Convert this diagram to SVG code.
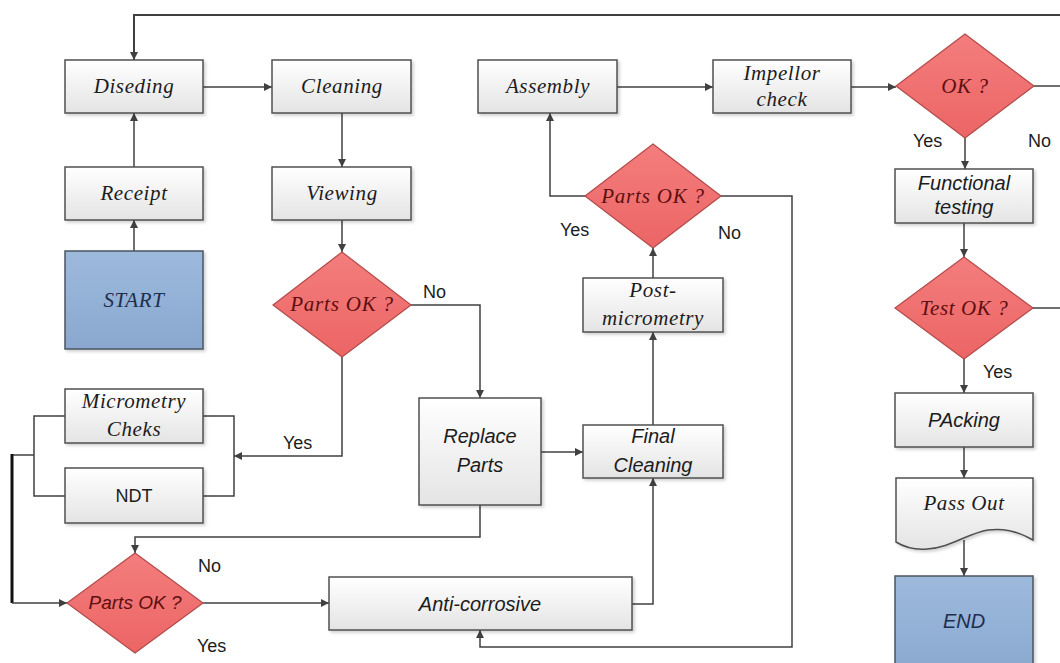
<svg xmlns="http://www.w3.org/2000/svg" width="1060" height="663" viewBox="0 0 1060 663">
  <defs>
    <linearGradient id="gBox" x1="0" y1="0" x2="0" y2="1">
      <stop offset="0" stop-color="#ffffff"/>
      <stop offset="1" stop-color="#e4e4e4"/>
    </linearGradient>
    <linearGradient id="gDia" x1="0" y1="0" x2="0" y2="1">
      <stop offset="0" stop-color="#f47d7d"/>
      <stop offset="1" stop-color="#ec6565"/>
    </linearGradient>
    <linearGradient id="gTerm" x1="0" y1="0" x2="0" y2="1">
      <stop offset="0" stop-color="#9dbadd"/>
      <stop offset="1" stop-color="#8aa8cf"/>
    </linearGradient>
    <filter id="shadow" x="-10%" y="-10%" width="125%" height="130%">
      <feDropShadow dx="2" dy="2" stdDeviation="1.5" flood-color="#000" flood-opacity="0.18"/>
    </filter>
    <marker id="arrow" viewBox="0 0 10 10" refX="10" refY="5" markerWidth="9" markerHeight="8" markerUnits="userSpaceOnUse" orient="auto">
      <path d="M0,0 L10,5 L0,10 z" fill="#404040"/>
    </marker>
    <style>
      .box { fill: url(#gBox); stroke: #505050; stroke-width: 1.5; filter: url(#shadow); }
      .dia { fill: url(#gDia); stroke: #b24a4a; stroke-width: 1.2; }
      .term { fill: url(#gTerm); stroke: #4a5560; stroke-width: 1.5; filter: url(#shadow); }
      .serif { font-family: "Liberation Serif", "Times New Roman", serif; font-style: italic; font-size: 21px; letter-spacing: 0.6px; fill: #1c1c1c; text-anchor: middle; }
      .sansi { font-family: "Liberation Sans", Arial, sans-serif; font-style: italic; font-size: 20px; fill: #1c1c1c; text-anchor: middle; }
      .sans { font-family: "Liberation Sans", Arial, sans-serif; font-size: 18px; fill: #1c1c1c; text-anchor: middle; }
      .lbl { font-family: "Liberation Sans", Arial, sans-serif; font-size: 18px; fill: #1c1c1c; }
      .red { fill: #5e0f0f; }
      .navy { fill: #1d2f4d; }
      .conn { fill: none; stroke: #404040; stroke-width: 1.5; }
    </style>
  </defs>

  <rect width="1060" height="663" fill="#ffffff"/>

  <!-- connectors -->
  <g id="connectors">
    <path class="conn" style="stroke-width:2" d="M1060,15 H134 V60" marker-end="url(#arrow)"/>
    <path class="conn" d="M203,87 H272" marker-end="url(#arrow)"/>
    <path class="conn" d="M134,167 V113" marker-end="url(#arrow)"/>
    <path class="conn" d="M134,251 V220" marker-end="url(#arrow)"/>
    <path class="conn" d="M342,113 V167" marker-end="url(#arrow)"/>
    <path class="conn" d="M342,220 V252" marker-end="url(#arrow)"/>
    <path class="conn" d="M411,305 H480 V398" marker-end="url(#arrow)"/>
    <path class="conn" d="M342,357 V456 H234" marker-end="url(#arrow)"/>
    <path class="conn" d="M203,416 H234 V496 H203"/>
    <path class="conn" d="M65,416 H34 V496 H65"/>
    <path class="conn" d="M34,455 H12"/>
    <path fill="none" stroke="#111" stroke-width="3" d="M12,454 V603"/>
    <path class="conn" d="M12,603 H67" marker-end="url(#arrow)"/>
    <path class="conn" d="M480,505 V537 H135 V553" marker-end="url(#arrow)"/>
    <path class="conn" d="M203,603 H329" marker-end="url(#arrow)"/>
    <path class="conn" d="M632,604 H653 V478" marker-end="url(#arrow)"/>
    <path class="conn" d="M541,452 H583" marker-end="url(#arrow)"/>
    <path class="conn" d="M653,425 V332" marker-end="url(#arrow)"/>
    <path class="conn" d="M653,278 V248" marker-end="url(#arrow)"/>
    <path class="conn" d="M585,196 H550 V113" marker-end="url(#arrow)"/>
    <path class="conn" d="M721,196 H792 V647 H480 V630" marker-end="url(#arrow)"/>
    <path class="conn" d="M617,87 H713" marker-end="url(#arrow)"/>
    <path class="conn" d="M851,87 H896" marker-end="url(#arrow)"/>
    <path class="conn" d="M1034,86 H1060"/>
    <path class="conn" d="M965,138 V169" marker-end="url(#arrow)"/>
    <path class="conn" d="M964,223 V257" marker-end="url(#arrow)"/>
    <path class="conn" d="M1033,308 H1060"/>
    <path class="conn" d="M964,359 V393" marker-end="url(#arrow)"/>
    <path class="conn" d="M964,447 V478" marker-end="url(#arrow)"/>
    <path class="conn" d="M964,540 V576" marker-end="url(#arrow)"/>
  </g>

  <!-- edge labels -->
  <g id="labels">
    <text class="lbl" x="423" y="298">No</text>
    <text class="lbl" x="283" y="449">Yes</text>
    <text class="lbl" x="560" y="236">Yes</text>
    <text class="lbl" x="718" y="239">No</text>
    <text class="lbl" x="913" y="147">Yes</text>
    <text class="lbl" x="1028" y="147">No</text>
    <text class="lbl" x="983" y="378">Yes</text>
    <text class="lbl" x="198" y="572">No</text>
    <text class="lbl" x="197" y="652">Yes</text>
  </g>

  <!-- nodes -->
  <g id="diseding">
    <rect class="box" x="65" y="60" width="138" height="53"/>
    <text class="serif" x="134" y="93">Diseding</text>
  </g>
  <g id="cleaning">
    <rect class="box" x="272" y="60" width="139" height="53"/>
    <text class="serif" x="342" y="93">Cleaning</text>
  </g>
  <g id="receipt">
    <rect class="box" x="65" y="167" width="138" height="53"/>
    <text class="serif" x="134" y="200">Receipt</text>
  </g>
  <g id="viewing">
    <rect class="box" x="272" y="167" width="139" height="53"/>
    <text class="serif" x="342" y="200">Viewing</text>
  </g>
  <g id="start">
    <rect class="term" x="65" y="251" width="138" height="98"/>
    <text class="serif navy" x="134" y="307">START</text>
  </g>
  <g id="parts-ok-1">
    <polygon class="dia" points="342,252 411,305 342,357 273,305"/>
    <text class="serif red" x="342" y="311" style="letter-spacing:0.8px">Parts OK ?</text>
  </g>
  <g id="micrometry">
    <rect class="box" x="65" y="389" width="138" height="54"/>
    <text class="serif" x="134" y="408">Micrometry</text>
    <text class="serif" x="134" y="436">Cheks</text>
  </g>
  <g id="ndt">
    <rect class="box" x="65" y="468" width="138" height="55"/>
    <text class="sans" x="134" y="502">NDT</text>
  </g>
  <g id="replace-parts">
    <rect class="box" x="419" y="398" width="122" height="107"/>
    <text class="sansi" x="480" y="443">Replace</text>
    <text class="sansi" x="480" y="472">Parts</text>
  </g>
  <g id="parts-ok-3">
    <polygon class="dia" points="135,553 203,603 135,653 67,603"/>
    <text class="sansi red" x="135" y="609" style="font-size:19px">Parts OK ?</text>
  </g>
  <g id="anti-corrosive">
    <rect class="box" x="329" y="577" width="303" height="53"/>
    <text class="sansi" x="480" y="611">Anti-corrosive</text>
  </g>
  <g id="final-cleaning">
    <rect class="box" x="583" y="425" width="140" height="53"/>
    <text class="sansi" x="653" y="443">Final</text>
    <text class="sansi" x="653" y="472">Cleaning</text>
  </g>
  <g id="post-micrometry">
    <rect class="box" x="583" y="278" width="140" height="54"/>
    <text class="serif" x="653" y="297">Post-</text>
    <text class="serif" x="653" y="325">micrometry</text>
  </g>
  <g id="parts-ok-2">
    <polygon class="dia" points="653,144 721,196 653,248 585,196"/>
    <text class="serif red" x="653" y="203" style="letter-spacing:0.8px">Parts OK ?</text>
  </g>
  <g id="assembly">
    <rect class="box" x="478" y="60" width="139" height="53"/>
    <text class="serif" x="548" y="93">Assembly</text>
  </g>
  <g id="impellor-check">
    <rect class="box" x="713" y="60" width="138" height="53"/>
    <text class="serif" x="782" y="80">Impellor</text>
    <text class="serif" x="782" y="106">check</text>
  </g>
  <g id="ok">
    <polygon class="dia" points="965,34 1034,86 965,138 896,86"/>
    <text class="serif red" x="965" y="93">OK ?</text>
  </g>
  <g id="functional-testing">
    <rect class="box" x="895" y="169" width="138" height="54"/>
    <text class="sansi" x="964" y="190">Functional</text>
    <text class="sansi" x="964" y="214">testing</text>
  </g>
  <g id="test-ok">
    <polygon class="dia" points="964,257 1033,308 964,359 895,308"/>
    <text class="serif red" x="964" y="315">Test OK ?</text>
  </g>
  <g id="packing">
    <rect class="box" x="895" y="393" width="138" height="54"/>
    <text class="sansi" x="964" y="427">PAcking</text>
  </g>
  <g id="pass-out">
    <path class="box" d="M896,478 H1033 V540 C1018,531 1003,528 988,530 C968,533 950,548 927,549 C914,550 904,547 896,542 Z"/>
    <text class="serif" x="964" y="510">Pass Out</text>
  </g>
  <g id="end">
    <rect class="term" x="895" y="576" width="138" height="100"/>
    <text class="sansi navy" x="964" y="628">END</text>
  </g>
</svg>
